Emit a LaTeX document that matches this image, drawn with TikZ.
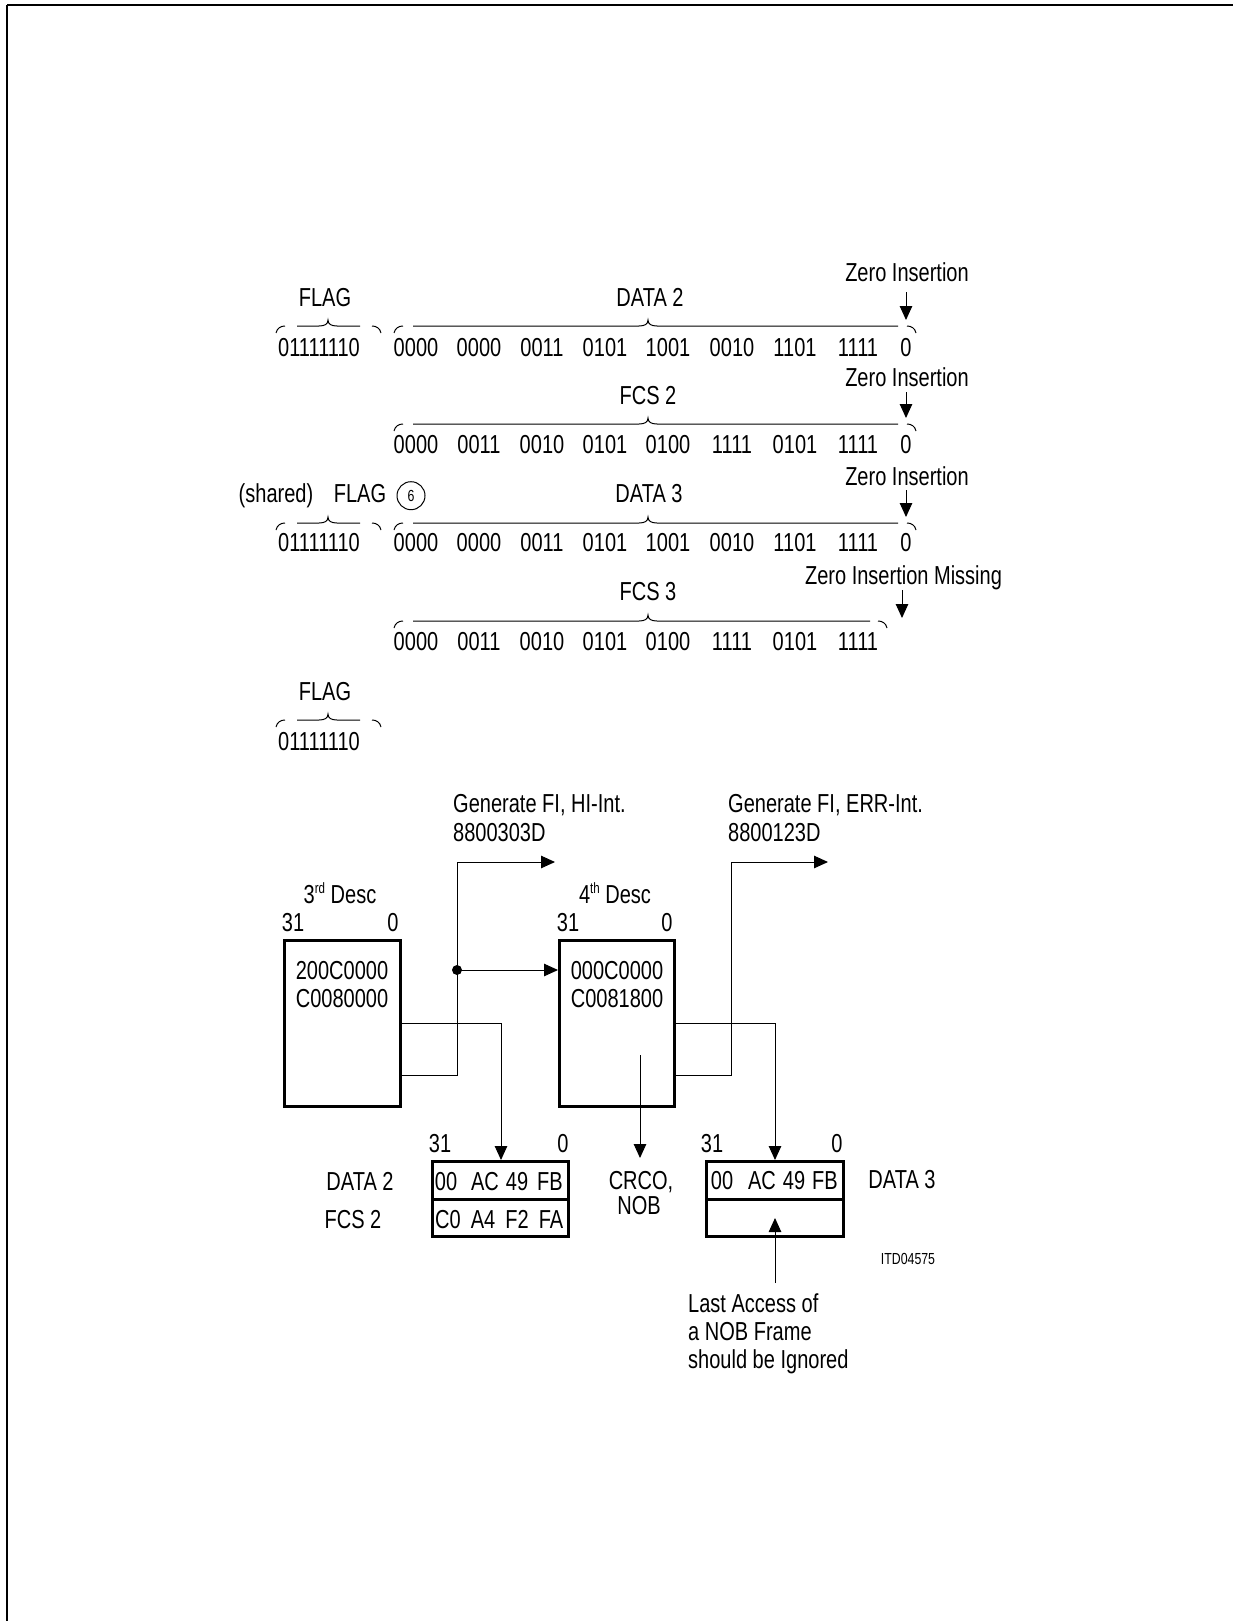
\documentclass[tikz,border=0pt]{standalone}
\usepackage{fontspec}
\setmainfont{Liberation Sans}[FakeStretch=0.77]
\usetikzlibrary{arrows.meta}
\newcommand\hdlcbrace[6]{%
  \draw[brc] (#1,#6+7) .. controls (#1+1,#6+2) and (#1+5,#6) .. (#1+9,#6);
  \draw[brc] (#2,#6) -- (#3-9,#6) .. controls (#3-3,#6) and (#3,#6-2) .. (#3,#6-6)
             .. controls (#3,#6-2) and (#3+3,#6) .. (#3+9,#6) -- (#4,#6);
  \draw[brc] (#5,#6) .. controls (#5+4,#6) and (#5+8,#6+2) .. (#5+9,#6+7);
}
\begin{document}
\begin{tikzpicture}[x=1pt,y=-1pt,
  font=\fontsize{26}{28}\selectfont,
  txt/.style={inner sep=0pt, anchor=base},
  ltxt/.style={inner sep=0pt, anchor=base west},
  small/.style={font=\fontsize{16}{18}\selectfont},
  brc/.style={line width=1pt},
  wire/.style={line width=1pt},
  arr/.style={wire, -{Triangle[length=14pt,width=12.5pt]}},
  regbox/.style={draw, line width=3pt, inner sep=0pt}]
\useasboundingbox (0,0) rectangle (1233,1621);
% page frame (top and left)
\draw[line width=2.3pt] (7,5) -- (1233,5);
\draw[line width=1.3pt] (7,5) -- (7,1621);

% ---------- bit streams ----------
% row 1
\node[txt] (flagA) at (325,306.7) {FLAG};
\hdlcbrace{276}{297}{328}{360}{372}{326}
\node[txt] (flagAbits) at (319,356) {01111110};
\node[txt] (data2t) at (650,306.7) {DATA 2};
\hdlcbrace{394}{413}{648}{898}{907}{326}
\foreach \x/\t [count=\i] in {416/0000,479/0000,542/0011,605/0101,668/1001,732/0010,795/1101,858/1111,906/0}
  \node[txt] (ra\i) at (\x,356) {\t};
\node[txt] (zia) at (907,281.7) {Zero Insertion};
\coordinate (zia1) at (906,292); \coordinate (zia2) at (906,320);
\draw[arr] (zia1) -- (zia2);

% row 2
\node[txt] (fcs2t) at (648,404) {FCS 2};
\hdlcbrace{394}{413}{648}{898}{907}{424}
\foreach \x/\t [count=\i] in {416/0000,479/0011,542/0010,605/0101,668/0100,732/1111,795/0101,858/1111,906/0}
  \node[txt] (rb\i) at (\x,453.5) {\t};
\node[txt] (zib) at (907,386.7) {Zero Insertion};
\coordinate (zib1) at (906,392); \coordinate (zib2) at (906,418);
\draw[arr] (zib1) -- (zib2);

% row 3
\node[txt] (shared) at (276,502.7) {(shared)};
\node[txt] (flagB) at (360,502.7) {FLAG};
\node[draw, circle, line width=1pt, minimum size=28pt, inner sep=0pt, small] (six) at (411,495.7) {6};
\hdlcbrace{276}{297}{328}{360}{372}{523}
\node[txt] (flagBbits) at (319,551.7) {01111110};
\node[txt] (data3t) at (649,502.7) {DATA 3};
\hdlcbrace{394}{413}{648}{898}{907}{523}
\foreach \x/\t [count=\i] in {416/0000,479/0000,542/0011,605/0101,668/1001,732/0010,795/1101,858/1111,906/0}
  \node[txt] (rc\i) at (\x,551.7) {\t};
\node[txt] (zic) at (907,485) {Zero Insertion};
\coordinate (zic1) at (906,490); \coordinate (zic2) at (906,517);
\draw[arr] (zic1) -- (zic2);

% row 4
\node[txt] (fcs3t) at (648,600.7) {FCS 3};
\hdlcbrace{394}{413}{648}{870}{878}{621}
\foreach \x/\t [count=\i] in {416/0000,479/0011,542/0010,605/0101,668/0100,732/1111,795/0101,858/1111}
  \node[txt] (rd\i) at (\x,650) {\t};
\node[txt] (zid) at (903.5,584) {Zero Insertion Missing};
\coordinate (zid1) at (902,590); \coordinate (zid2) at (902,618);
\draw[arr] (zid1) -- (zid2);

% closing flag
\node[txt] (flagC) at (325,700) {FLAG};
\hdlcbrace{276}{297}{328}{360}{372}{720}
\node[txt] (flagCbits) at (319,750) {01111110};

% ---------- descriptors ----------
\node[ltxt] (gen1) at (453,812) {Generate FI, HI-Int.};
\node[ltxt] (gen1b) at (453,841) {8800303D};
\node[ltxt] (gen2) at (728,812) {Generate FI, ERR-Int.};
\node[ltxt] (gen2b) at (728,841) {8800123D};

\node[txt] (d3title) at (340,903) {3\raisebox{10pt}{\fontsize{15}{15}\selectfont rd} Desc};
\node[txt] (d3hi) at (293,931) {31};
\node[txt] (d3lo) at (393,931) {0};
\node[regbox, minimum width=116pt, minimum height=166pt] (desc3) at (342.5,1023.5) {};
\node[txt] (d3w1) at (342,979) {200C0000};
\node[txt] (d3w2) at (342,1007) {C0080000};

\node[txt] (d4title) at (615,903) {4\raisebox{10pt}{\fontsize{15}{15}\selectfont th} Desc};
\node[txt] (d4hi) at (568,931) {31};
\node[txt] (d4lo) at (667,931) {0};
\node[regbox, minimum width=115pt, minimum height=166pt] (desc4) at (617,1023.5) {};
\node[txt] (d4w1) at (617,979) {000C0000};
\node[txt] (d4w2) at (617,1007) {C0081800};

% data buffers
\node[regbox, minimum width=136pt, minimum height=38pt] (d2a) at (500.5,1180.5) {};
\node[regbox, minimum width=136pt, minimum height=37pt] (d2b) at (500.5,1218) {};
\node[regbox, minimum width=137pt, minimum height=38pt] (d3a) at (775,1180.5) {};
\node[regbox, minimum width=137pt, minimum height=37pt] (d3b) at (775,1218) {};

\node[txt] (d2hi) at (440,1152) {31};
\node[txt] (d2lo) at (563,1152) {0};
\node[txt] (d3bhi) at (712,1152) {31};
\node[txt] (d3blo) at (837,1152) {0};

\node[txt] (data2l) at (360,1190) {DATA 2};
\node[txt] (fcs2l) at (353,1228) {FCS 2};
\foreach \x/\t [count=\i] in {446/00,485/AC,517/49,550/FB}
  \node[txt] (d2x\i) at (\x,1190) {\t};
\foreach \x/\t [count=\i] in {448/C0,483/A4,517/F2,551/FA}
  \node[txt] (d2y\i) at (\x,1228) {\t};
\foreach \x/\t [count=\i] in {722/00,762/AC,794/49,825/FB}
  \node[txt] (d3x\i) at (\x,1189) {\t};
\node[txt] (data3l) at (902,1188) {DATA 3};

\node[txt] (crco) at (641,1189) {CRCO,};
\node[txt] (nob) at (639,1214) {NOB};
\node[txt, small] (itd) at (908,1264) {ITD04575};
\node[ltxt] (last1) at (688,1312) {Last Access of};
\node[ltxt] (last2) at (688,1340) {a NOB Frame};
\node[ltxt] (last3) at (688,1368) {should be Ignored};

% ---------- connectors ----------
\coordinate (b1) at (501,1023);
\draw[arr] (desc3.east |- b1) -- (b1) -- (b1 |- d2a.north);
\coordinate (b2) at (457,1075);
\coordinate (b3) at (457,862);
\coordinate (g1) at (555,862);
\draw[arr] (desc3.east |- b2) -- (b2) -- (b3) -- (g1);
\coordinate (dot1) at (457,970);
\fill (dot1) circle (5pt);
\draw[arr] (dot1) -- (desc4.west |- dot1);

\coordinate (b4) at (775,1023);
\draw[arr] (desc4.east |- b4) -- (b4) -- (b4 |- d3a.north);
\coordinate (b5) at (731,1075);
\coordinate (b6) at (731,862);
\coordinate (g2) at (828,862);
\draw[arr] (desc4.east |- b5) -- (b5) -- (b6) -- (g2);

\coordinate (c1) at (640,1055);
\coordinate (c2) at (640,1158);
\draw[arr] (c1) -- (c2);

\coordinate (la) at (775,1283);
\draw[arr] (la) -- (d3b.center);
\end{tikzpicture}
\end{document}
